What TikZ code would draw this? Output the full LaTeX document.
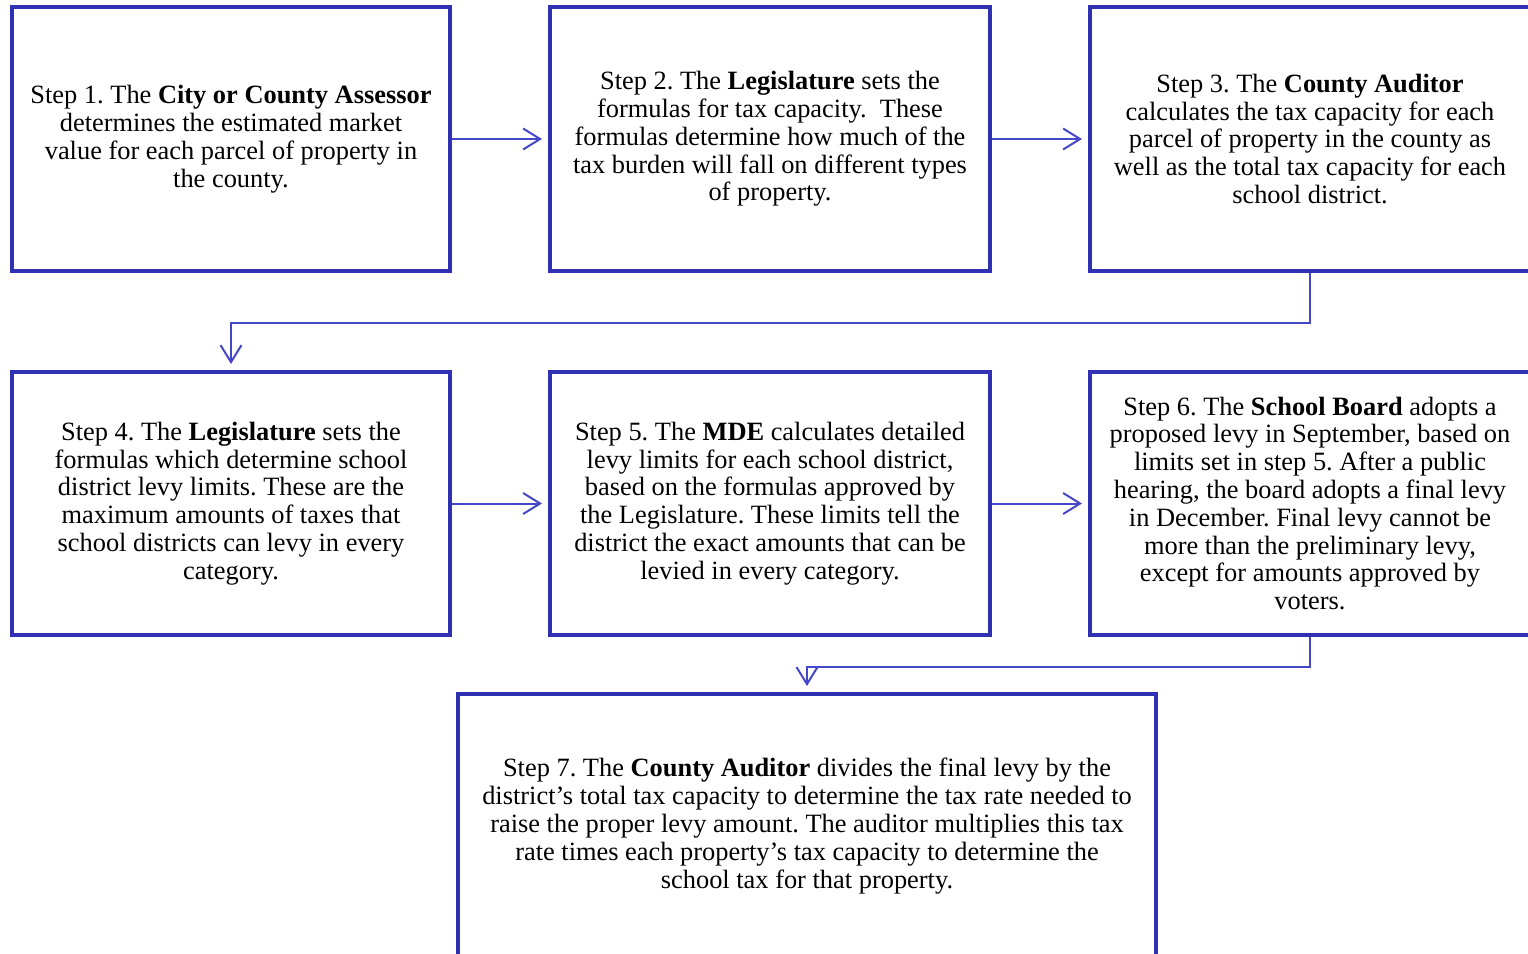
\documentclass[tikz,border=0pt]{standalone}
\usepackage{fontspec}
\setmainfont{Liberation Serif}
\usetikzlibrary{arrows.meta}
\definecolor{boxc}{RGB}{48,48,178}
\definecolor{arrc}{RGB}{70,70,200}
\frenchspacing
\begin{document}
\begin{tikzpicture}[x=0.5pt,y=-0.5pt,
  stepbox/.style={draw=boxc, line width=2pt, inner sep=0pt, align=center,
    minimum width=220pt, minimum height=132pt, font=\fontsize{13.2}{13.9}\selectfont\frenchspacing},
  arr/.style={draw=arrc, line width=1pt, -{Straight Barb[length=8.5pt,width=10.5pt,line width=1pt]}, shorten >=3pt}]
\useasboundingbox (0,0) rectangle (1528,954);
\clip (0,0) rectangle (1528,954);
\fill[white] (0,0) rectangle (1528,954);
\node[stepbox, minimum width=219pt] (b1) at (231,139) {Step 1. The \textbf{City or County Assessor}\\ determines the estimated market\\ value for each parcel of property in\\ the county.};
\node[stepbox] (b2) at (770,139) {Step 2. The \textbf{Legislature} sets the\\ formulas for tax capacity.\ \ These\\ formulas determine how much of the\\ tax burden will fall on different types\\ of property.};
\node[stepbox] (b3) at (1310,139) {Step 3. The \textbf{County Auditor}\\ calculates the tax capacity for each\\ parcel of property in the county as\\ well as the total tax capacity for each\\ school district.};
\node[stepbox, minimum width=219pt, minimum height=131.5pt] (b4) at (231,503.5) {Step 4. The \textbf{Legislature} sets the\\ formulas which determine school\\ district levy limits. These are the\\ maximum amounts of taxes that\\ school districts can levy in every\\ category.};
\node[stepbox, minimum height=131.5pt] (b5) at (770,503.5) {Step 5. The \textbf{MDE} calculates detailed\\ levy limits for each school district,\\ based on the formulas approved by\\ the Legislature. These limits tell the\\ district the exact amounts that can be\\ levied in every category.};
\node[stepbox, minimum height=131.5pt] (b6) at (1310,503.5) {Step 6. The \textbf{School Board} adopts a\\ proposed levy in September, based on\\ limits set in step 5. After a public\\ hearing, the board adopts a final levy\\ in December. Final levy cannot be\\ more than the preliminary levy,\\ except for amounts approved by\\ voters.};
\node[stepbox, minimum width=349pt] (b7) at (807,826) {Step 7. The \textbf{County Auditor} divides the final levy by the\\ district’s total tax capacity to determine the tax rate needed to\\ raise the proper levy amount. The auditor multiplies this tax\\ rate times each property’s tax capacity to determine the\\ school tax for that property.};
\draw[arr] (b1.east) -- (b2.west);
\draw[arr] (b2.east) -- (b3.west);
\draw[arr] (b4.east) -- (b5.west);
\draw[arr] (b5.east) -- (b6.west);
\draw[arr] (b3.south) -- ++(0,50) -| (b4.north);
\draw[arr] (b6.south) -- ++(0,30) -| (b7.north);
\end{tikzpicture}
\end{document}
